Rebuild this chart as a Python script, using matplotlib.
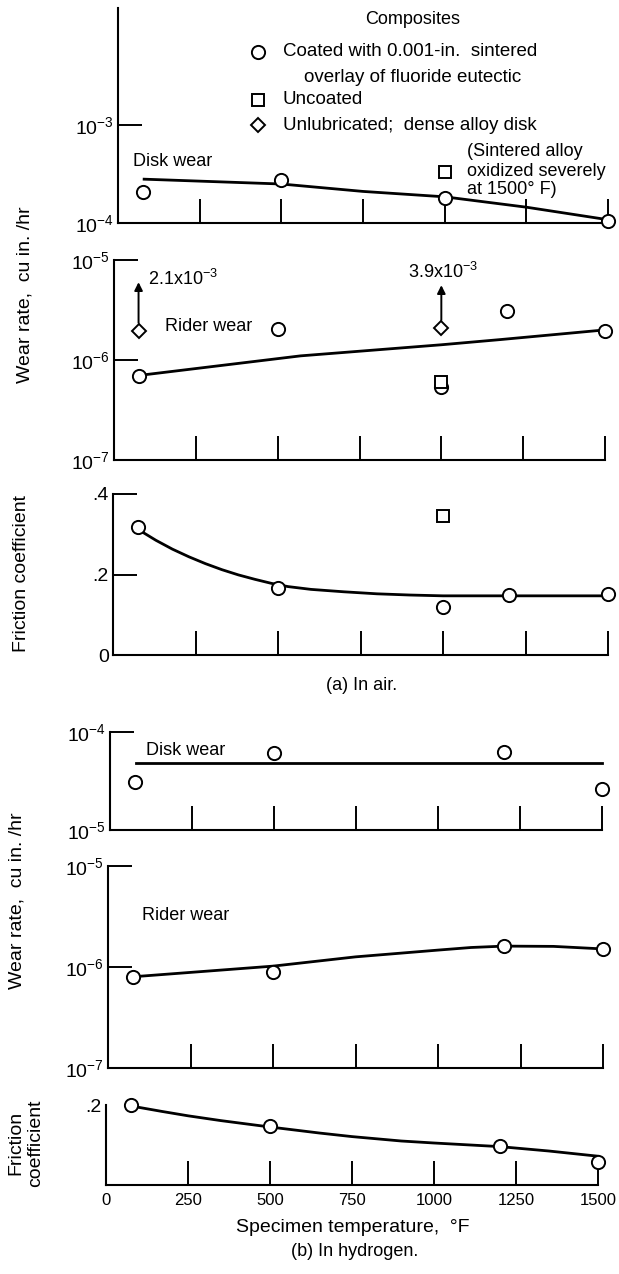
import matplotlib
matplotlib.use('Agg')
import matplotlib.pyplot as plt
from matplotlib.ticker import FixedLocator, NullLocator, FixedFormatter

plt.rcParams['font.family'] = ['Liberation Sans', 'DejaVu Sans']
plt.rcParams['mathtext.fontset'] = 'custom'
plt.rcParams['mathtext.rm'] = 'Liberation Sans'
plt.rcParams['mathtext.it'] = 'Liberation Sans'
plt.rcParams['mathtext.bf'] = 'Liberation Sans'

# ---- data ----
x_ticks = [0, 250, 500, 750, 1000, 1250, 1500]

# (a) in air
air_disk_t = [75, 500, 1000, 1500]
air_disk_w = [2.07e-4, 2.75e-4, 1.8e-4, 1.05e-4]
air_disk_fit_t = [80, 500, 750, 1000, 1250, 1500]
air_disk_fit_w = [2.8e-4, 2.5e-4, 2.1e-4, 1.85e-4, 1.45e-4, 1.08e-4]
air_disk_unc_t = [1000]
air_disk_unc_w = [3.3e-4]

air_rider_t = [75, 500, 1000, 1200, 1500]
air_rider_w = [6.9e-7, 2.04e-6, 5.4e-7, 3.1e-6, 1.95e-6]
air_rider_fit_t = [75, 570, 1000, 1180, 1500]
air_rider_fit_w = [7.0e-7, 1.1e-6, 1.42e-6, 1.6e-6, 2.0e-6]
air_rider_unc_t = [1000]
air_rider_unc_w = [6.0e-7]
air_rider_unlub_t = [75, 1000]
air_rider_unlub_w = [1.95e-6, 2.1e-6]
unlub_labels = ['2.1x10$^{-3}$', '3.9x10$^{-3}$']

air_fric_t = [75, 500, 1000, 1200, 1500]
air_fric_f = [0.318, 0.166, 0.119, 0.149, 0.152]
air_fric_fit_t = [80, 130, 180, 230, 280, 330, 380, 430, 480, 530, 600, 700, 800, 900, 1000, 1200, 1500]
air_fric_fit_f = [0.31, 0.285, 0.263, 0.244, 0.227, 0.212, 0.199, 0.188, 0.178, 0.170, 0.163,
                  0.157, 0.152, 0.149, 0.147, 0.147, 0.147]
air_fric_unc_t = [1000]
air_fric_unc_f = [0.345]

# (b) in hydrogen
h2_disk_t = [75, 500, 1200, 1500]
h2_disk_w = [3.1e-5, 6.1e-5, 6.2e-5, 2.6e-5]
h2_disk_fit_t = [80, 1500]
h2_disk_fit_w = [4.8e-5, 4.8e-5]

h2_rider_t = [75, 500, 1200, 1500]
h2_rider_w = [8.0e-7, 8.9e-7, 1.61e-6, 1.51e-6]
h2_rider_fit_t = [75, 500, 750, 1000, 1100, 1200, 1350, 1500]
h2_rider_fit_w = [8.0e-7, 1.02e-6, 1.26e-6, 1.47e-6, 1.56e-6, 1.61e-6, 1.60e-6, 1.51e-6]

h2_fric_t = [75, 500, 1200, 1500]
h2_fric_f = [0.2, 0.148, 0.098, 0.058]
h2_fric_fit_t = [80, 170, 250, 350, 500, 650, 750, 900, 1000, 1200, 1350, 1500]
h2_fric_fit_f = [0.197, 0.184, 0.173, 0.161, 0.145, 0.130, 0.121, 0.110, 0.105, 0.096, 0.085, 0.072]

# ---- layout (pixels) ----
W, H = 619, 1274
fig = plt.figure(figsize=(W / 100, H / 100), dpi=100)


def px(x, y):
    return x / W, 1 - y / H


def make_ax(L, R, T, B, log=False, ylim=None, yticks=None, ylabels=None, xlabels=False, ytick_len=17):
    ax = fig.add_axes([L / W, 1 - B / H, (R - L) / W, (B - T) / H])
    ax.spines['top'].set_visible(False)
    ax.spines['right'].set_visible(False)
    ax.spines['left'].set_linewidth(1.5)
    ax.spines['bottom'].set_linewidth(1.5)
    if log:
        ax.set_yscale('log')
    ax.set_xlim(0, 1500)
    ax.set_ylim(*ylim)
    ax.xaxis.set_major_locator(FixedLocator(x_ticks))
    ax.yaxis.set_major_locator(FixedLocator(yticks))
    ax.yaxis.set_minor_locator(NullLocator())
    ax.xaxis.set_minor_locator(NullLocator())
    if ylabels is not None:
        ax.yaxis.set_major_formatter(FixedFormatter(ylabels))
    ax.tick_params(axis='x', direction='in', length=17, width=1.4,
                   labelbottom=xlabels, labelsize=12, pad=6)
    ax.tick_params(axis='y', direction='in', length=ytick_len, width=1.4,
                   labelsize=14, pad=3)
    ax.patch.set_alpha(0)
    return ax


circ = dict(marker='o', ms=9.5, mfc='white', mec='black', mew=1.4, ls='none', zorder=4, clip_on=False)
sq = dict(marker='s', ms=8.5, mfc='white', mec='black', mew=1.4, ls='none', zorder=4, clip_on=False)
dia = dict(marker='D', ms=7.5, mfc='white', mec='black', mew=1.4, ls='none', zorder=4, clip_on=False)
fit = dict(color='black', lw=2.0, zorder=3, clip_on=False, solid_joinstyle='round')

# (a) disk wear, air
ax1 = make_ax(118, 608, 8, 223, log=True, ylim=(1e-4, 10 ** -1.806), yticks=[1e-4, 1e-3])
ax1.plot(air_disk_fit_t, air_disk_fit_w, **fit)
ax1.plot(air_disk_t, air_disk_w, **circ)
ax1.plot(air_disk_unc_t, air_disk_unc_w, **sq)
ax1.text(46, 4.2e-4, 'Disk wear', fontsize=13, ha='left', va='center')

# (a) rider wear, air
ax2 = make_ax(114, 605, 260, 460, log=True, ylim=(1e-7, 1e-5), yticks=[1e-7, 1e-6, 1e-5])
ax2.plot(air_rider_fit_t, air_rider_fit_w, **fit)
ax2.plot(air_rider_t, air_rider_w, **circ)
ax2.plot(air_rider_unc_t, air_rider_unc_w, **sq)
ax2.plot(air_rider_unlub_t, air_rider_unlub_w, **dia)
ax2.text(156, 2.14e-6, 'Rider wear', fontsize=13, ha='left', va='center')
arrow = dict(arrowstyle='-|>', color='black', lw=1.4, mutation_scale=12, shrinkA=0, shrinkB=0)
ax2.annotate('', xy=(75, 6.0e-6), xytext=(75, 2.35e-6), arrowprops=arrow)
ax2.text(104, 6.4e-6, unlub_labels[0], fontsize=13, ha='left', va='center')
ax2.annotate('', xy=(1000, 5.6e-6), xytext=(1000, 2.5e-6), arrowprops=arrow)
ax2.text(1005, 7.6e-6, unlub_labels[1], fontsize=13, ha='center', va='center')

# (a) friction, air
ax3 = make_ax(113, 608, 494, 655, ylim=(0, 0.4), yticks=[0, 0.2, 0.4], ylabels=['0', '.2', '.4'])
ax3.plot(air_fric_fit_t, air_fric_fit_f, **fit)
ax3.plot(air_fric_t, air_fric_f, **circ)
ax3.plot(air_fric_unc_t, air_fric_unc_f, **sq)

# (b) disk wear, hydrogen
ax4 = make_ax(110, 602, 732, 830, log=True, ylim=(1e-5, 1e-4), yticks=[1e-5, 1e-4])
ax4.plot(h2_disk_fit_t, h2_disk_fit_w, **fit)
ax4.plot(h2_disk_t, h2_disk_w, **circ)
ax4.text(110, 6.55e-5, 'Disk wear', fontsize=13, ha='left', va='center')

# (b) rider wear, hydrogen
ax5 = make_ax(108, 603, 866, 1068, log=True, ylim=(1e-7, 1e-5), yticks=[1e-7, 1e-6, 1e-5])
ax5.plot(h2_rider_fit_t, h2_rider_fit_w, **fit)
ax5.plot(h2_rider_t, h2_rider_w, **circ)
ax5.text(103, 3.27e-6, 'Rider wear', fontsize=13, ha='left', va='center')

# (b) friction, hydrogen
ax6 = make_ax(106, 598, 1105, 1185, ylim=(0, 0.2), yticks=[0.2], ylabels=['.2'],
              xlabels=True, ytick_len=0)
ax6.plot(h2_fric_fit_t, h2_fric_fit_f, **fit)
ax6.plot(h2_fric_t, h2_fric_f, **circ)

# legend
leg = [('o', 52, 'Coated with 0.001-in.  sintered'),
       ('s', 100, 'Uncoated'),
       ('D', 125, 'Unlubricated;  dense alloy disk')]
fig.text(*px(413, 20), 'Composites', fontsize=13, ha='center', va='center')
for m, y, label in leg:
    style = {'o': circ, 's': sq, 'D': dia}[m]
    ax1.plot([258 / W], [1 - y / H], transform=fig.transFigure, **style)
    fig.text(*px(283, y), label, fontsize=13.5, ha='left', va='center')
fig.text(*px(304, 77), 'overlay of fluoride eutectic', fontsize=13.5, ha='left', va='center')
for y, line in [(152, '(Sintered alloy'), (171, 'oxidized severely'), (190, 'at 1500\u00b0 F)')]:
    fig.text(*px(467, y), line, fontsize=13, ha='left', va='center')

# axis titles and captions
fig.text(*px(25, 295), 'Wear rate,  cu in. /hr', fontsize=14, rotation=90, ha='center', va='center')
fig.text(*px(22, 573), 'Friction coefficient', fontsize=14, rotation=90, ha='center', va='center')
fig.text(*px(362, 685), '(a) In air.', fontsize=13, ha='center', va='center')
fig.text(*px(17, 901), 'Wear rate,  cu in. /hr', fontsize=14, rotation=90, ha='center', va='center')
fig.text(*px(26, 1143), 'Friction\ncoefficient', fontsize=14, rotation=90, ha='center', va='center',
         linespacing=1.2)
fig.text(*px(353, 1227), 'Specimen temperature,  \u00b0F', fontsize=14, ha='center', va='center')
fig.text(*px(355, 1252), '(b) In hydrogen.', fontsize=13, ha='center', va='center')

fig.savefig('out.png', dpi=100)
